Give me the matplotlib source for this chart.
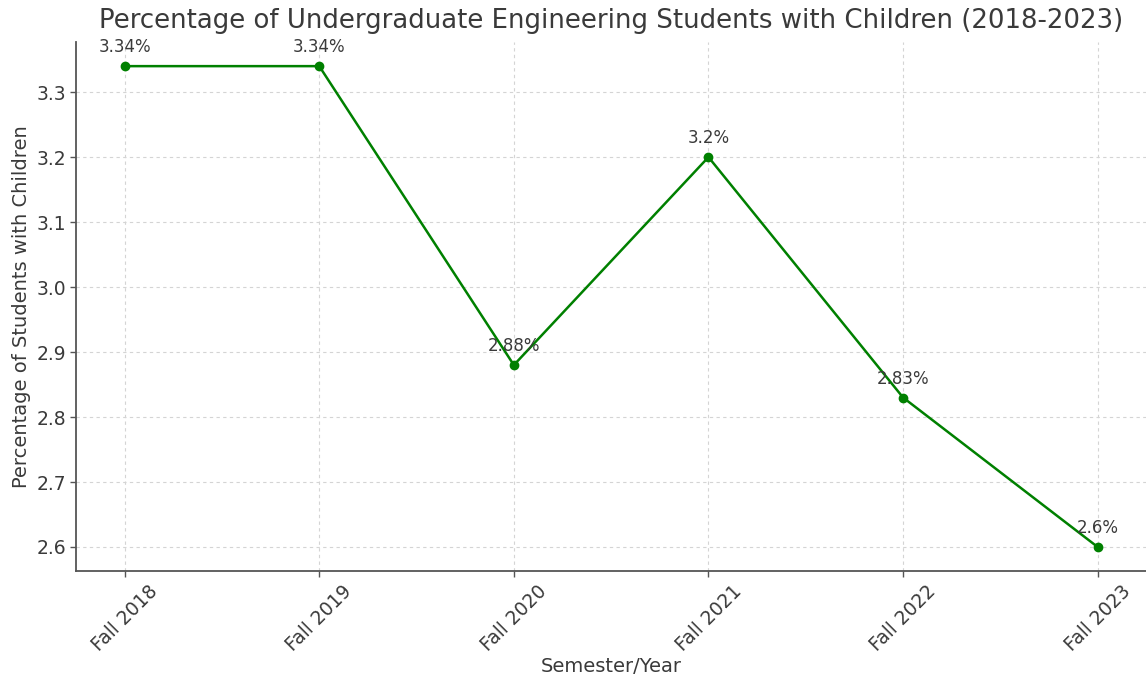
import matplotlib
matplotlib.use("Agg")
import matplotlib.pyplot as plt

semesters = ["Fall 2018", "Fall 2019", "Fall 2020", "Fall 2021", "Fall 2022", "Fall 2023"]
pct_with_children = [3.34, 3.34, 2.88, 3.2, 2.83, 2.6]
value_labels = ["3.34%", "3.34%", "2.88%", "3.2%", "2.83%", "2.6%"]

text_color = "#3a3a3a"
plt.rcParams["text.color"] = text_color
plt.rcParams["axes.labelcolor"] = text_color
plt.rcParams["xtick.color"] = "#555555"
plt.rcParams["ytick.color"] = "#555555"
plt.rcParams["xtick.labelcolor"] = text_color
plt.rcParams["ytick.labelcolor"] = text_color

fig = plt.figure(figsize=(11.46, 6.79), dpi=100)
ax = fig.add_axes([0.0663, 0.159, 0.934, 0.779])

x = list(range(len(semesters)))
ax.plot(x, pct_with_children, marker="o", color="green", linewidth=1.8, markersize=6)

# value labels just above each point
for xi, yi, lbl in zip(x, pct_with_children, value_labels):
    ax.annotate(lbl, (xi, yi), textcoords="offset points", xytext=(0, 10),
                ha="center", fontsize=12, color=text_color)

ax.set_xticks(x)
ax.set_xticklabels(semesters, rotation=45, fontsize=13.5)
ax.tick_params(axis="y", labelsize=13.5, pad=3)
ax.tick_params(length=4, width=1)
ax.set_title("Percentage of Undergraduate Engineering Students with Children (2018-2023)",
             fontsize=18.7, pad=10)
ax.set_xlabel("Semester/Year", fontsize=14, labelpad=2)
ax.set_ylabel("Percentage of Students with Children", fontsize=14)

ax.grid(True, linestyle=(0, (3, 3)), color="#d4d4d4", linewidth=0.8)
ax.spines["top"].set_visible(False)
ax.spines["right"].set_visible(False)
for s in ("left", "bottom"):
    ax.spines[s].set_color("#555555")
    ax.spines[s].set_linewidth(1.3)

fig.savefig("out.png", dpi=100)
